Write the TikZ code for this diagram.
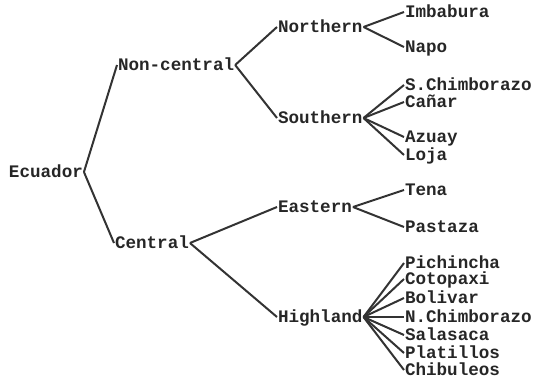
\documentclass[tikz,border=0pt]{standalone}
\usepackage{fontspec}
\setmonofont{Liberation Mono}
\begin{document}
\begin{tikzpicture}[x=1pt,y=-1pt,
  lbl/.style={anchor=base west,inner sep=0pt,outer sep=0pt,text height=10pt,text depth=0pt,
    font=\fontsize{17.6}{18}\selectfont\ttfamily\bfseries,text=black!85},
  edge/.style={line width=2pt,draw=black!80}]
\useasboundingbox (0,0) rectangle (535,381);
% levels of the tree
\node[lbl] (ec) at (9,177) {Ecuador};
\node[lbl] (nc) at (118,70) {Non-central};
\node[lbl] (ce) at (115,248) {Central};
\node[lbl] (no) at (278,32) {Northern};
\node[lbl] (so) at (278,123) {Southern};
\node[lbl] (ea) at (278,212) {Eastern};
\node[lbl] (hi) at (278,322) {Highland};
% leaves
\node[lbl] (imb) at (405,17) {Imbabura};
\node[lbl] (nap) at (405,52) {Napo};
\node[lbl] (sch) at (405,90) {S.Chimborazo};
\node[lbl] (can) at (405,107) {Cañar};
\node[lbl] (azu) at (405,142) {Azuay};
\node[lbl] (loj) at (405,160) {Loja};
\node[lbl] (ten) at (405,195) {Tena};
\node[lbl] (pas) at (405,232) {Pastaza};
\node[lbl] (pic) at (405,268) {Pichincha};
\node[lbl] (cot) at (405,284) {Cotopaxi};
\node[lbl] (bol) at (405,303) {Bolivar};
\node[lbl] (nch) at (405,322) {N.Chimborazo};
\node[lbl] (sal) at (405,340) {Salasaca};
\node[lbl] (pla) at (405,358) {Platillos};
\node[lbl] (chi) at (405,375) {Chibuleos};
% branches
\foreach \p/\c in {ec/nc,ec/ce,nc/no,nc/so,ce/ea,ce/hi,
    no/imb,no/nap,so/sch,so/can,so/azu,so/loj,ea/ten,ea/pas,
    hi/pic,hi/cot,hi/bol,hi/nch,hi/sal,hi/pla,hi/chi}
  \draw[edge] ([xshift=1pt]\p.east) -- ([xshift=-1pt]\c.west);
\end{tikzpicture}
\end{document}
